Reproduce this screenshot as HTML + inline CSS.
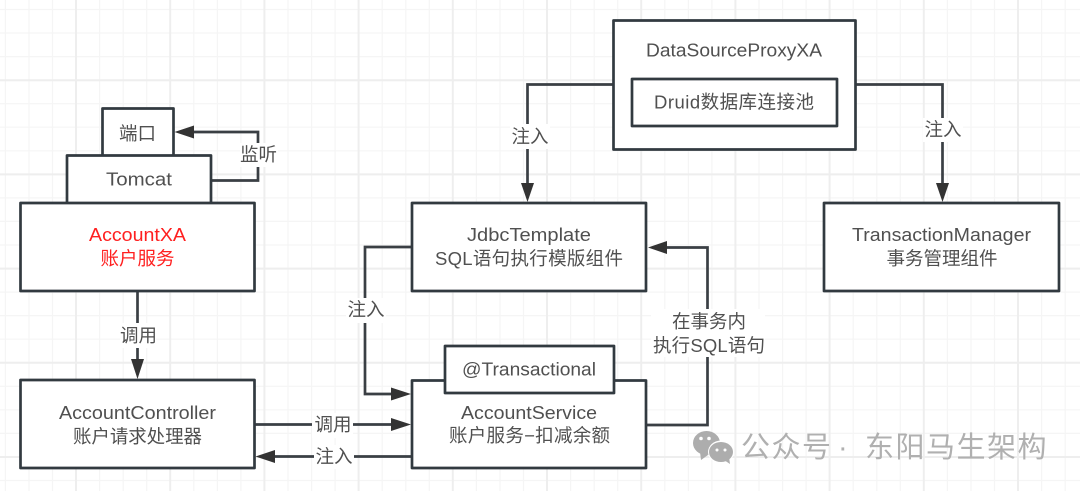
<!DOCTYPE html>
<html><head><meta charset="utf-8"><style>
html,body{margin:0;padding:0;background:#fff;width:1080px;height:491px;overflow:hidden}
svg{display:block}
text{font-family:"Liberation Sans","Noto Sans CJK SC",sans-serif;font-size:18.5px;fill:#505050;text-anchor:middle}
.b{fill:#fff;stroke:#323a40;stroke-width:2.7;stroke-linejoin:round}
.l{fill:none;stroke:#3a3f44;stroke-width:2.7}
.a{fill:#333;stroke:none}
.w{fill:#fff}
.g{stroke:#f5f5f5;stroke-width:1.2}
.s{stroke:#eeeeee;stroke-width:2}
.m{font-size:29px;fill:#b0b0b0;text-anchor:start;letter-spacing:1.500px}
</style></head><body>
<svg width="1080" height="491" viewBox="0 0 1080 491" xmlns="http://www.w3.org/2000/svg">
<rect width="1080" height="491" fill="#fff"/>
<g class="g">
<path d="M5.4 0V491M29 0V491M52.5 0V491M99.6 0V491M123.2 0V491M146.7 0V491M193.8 0V491M217.4 0V491M240.9 0V491M288 0V491M311.6 0V491M335.1 0V491M382.2 0V491M405.8 0V491M429.3 0V491M476.4 0V491M500 0V491M523.5 0V491M570.6 0V491M594.2 0V491M617.7 0V491M664.8 0V491M688.4 0V491M711.9 0V491M759 0V491M782.6 0V491M806.1 0V491M853.2 0V491M876.8 0V491M900.3 0V491M947.4 0V491M971 0V491M994.5 0V491M1041.6 0V491M1065.2 0V491"/>
<path d="M0 9.5H1080M0 33H1080M0 56.6H1080M0 103.7H1080M0 127.2H1080M0 150.8H1080M0 197.9H1080M0 221.4H1080M0 245H1080M0 292.1H1080M0 315.6H1080M0 339.2H1080M0 386.3H1080M0 409.8H1080M0 433.4H1080M0 480.5H1080"/>
</g>
<g class="s">
<path d="M76 0V491M170.2 0V491M264.4 0V491M358.6 0V491M452.8 0V491M547 0V491M641.2 0V491M735.4 0V491M829.6 0V491M923.8 0V491M1018 0V491"/>
<path d="M0 80.2H1080M0 174.4H1080M0 268.6H1080M0 362.8H1080M0 457H1080"/>
</g>

<!-- connectors -->
<path class="l" d="M211 180.500H258V132H185"/>
<path class="l" d="M137.500 291V367"/>
<path class="l" d="M254 424.500H400"/>
<path class="l" d="M412 456.500H268"/>
<path class="l" d="M412 247H365V394H400"/>
<path class="l" d="M646 425H707.500V247.500H660"/>
<path class="l" d="M613 84.500H527.500V190"/>
<path class="l" d="M855 84.500H942.500V190"/>

<!-- arrowheads -->
<path class="a" d="M174.500 132L194 125.500V138.500Z"/>
<path class="a" d="M137.500 379L131 359H144Z"/>
<path class="a" d="M411 424.500L391 418V431Z"/>
<path class="a" d="M255.500 456.500L275 450V463Z"/>
<path class="a" d="M411 394L391 387.500V400.500Z"/>
<path class="a" d="M648 247.500L667 241V254Z"/>
<path class="a" d="M527.500 202L521 183H534Z"/>
<path class="a" d="M942.500 202L936 183H949Z"/>

<!-- boxes -->
<rect class="b" x="102.500" y="108.500" width="71" height="48"/>
<rect class="b" x="67" y="155.500" width="144" height="48"/>
<rect class="b" x="20.500" y="203" width="234" height="88"/>
<rect class="b" x="20.500" y="380" width="234" height="88"/>
<rect class="b" x="412" y="380.500" width="234" height="87.500"/>
<rect class="b" x="445" y="346" width="169" height="47"/>
<rect class="b" x="412" y="203" width="234" height="88"/>
<rect class="b" x="613.500" y="20.500" width="242" height="129"/>
<rect class="b" x="632" y="79" width="205" height="47"/>
<rect class="b" x="824" y="203" width="235" height="88"/>

<!-- label backgrounds -->
<rect class="w" x="240" y="143" width="38" height="24"/>
<rect class="w" x="120" y="323" width="36" height="25"/>
<rect class="w" x="312" y="413" width="41" height="25"/>
<rect class="w" x="314" y="445" width="40" height="24"/>
<rect class="w" x="346" y="298" width="40" height="25"/>
<rect class="w" x="510" y="124" width="40" height="25"/>
<rect class="w" x="923" y="118" width="40" height="24"/>
<rect class="w" x="651" y="309" width="114" height="48"/>

<!-- text -->
<text x="137.500" y="140">端口</text>
<text x="139" y="185.500" textLength="66" lengthAdjust="spacingAndGlyphs">Tomcat</text>
<text x="137.500" y="241" textLength="97" lengthAdjust="spacingAndGlyphs" style="fill:#ff2020">AccountXA</text>
<text x="137.500" y="265" style="fill:#ff2020">账户服务</text>
<text x="258.500" y="161">监听</text>
<text x="138.500" y="342">调用</text>
<text x="137.500" y="419" textLength="157" lengthAdjust="spacingAndGlyphs">AccountController</text>
<text x="137.500" y="443" textLength="129">账户请求处理器</text>
<text x="333" y="431">调用</text>
<text x="334" y="463">注入</text>
<text x="366" y="316">注入</text>
<text x="530" y="143">注入</text>
<text x="943" y="136">注入</text>
<text x="529" y="241" textLength="124" lengthAdjust="spacingAndGlyphs">JdbcTemplate</text>
<text x="529" y="265" textLength="188">SQL语句执行模版组件</text>
<text x="529" y="375.500" textLength="134" lengthAdjust="spacingAndGlyphs">@Transactional</text>
<text x="529" y="419" textLength="136" lengthAdjust="spacingAndGlyphs">AccountService</text>
<text x="529.500" y="442" textLength="161">账户服务−扣减余额</text>
<text x="734" y="56.500" textLength="176" lengthAdjust="spacingAndGlyphs">DataSourceProxyXA</text>
<text x="734" y="108.500" textLength="160">Druid数据库连接池</text>
<text x="941.500" y="241" textLength="179" lengthAdjust="spacingAndGlyphs">TransactionManager</text>
<text x="942" y="265">事务管理组件</text>
<text x="709" y="328">在事务内</text>
<text x="709" y="352" textLength="112">执行SQL语句</text>

<!-- watermark -->
<g fill="#adadad">
<ellipse cx="706.500" cy="443" rx="13.500" ry="12"/>
<path d="M700 452L701 460L708 455Z"/>
</g>
<ellipse cx="721" cy="452" rx="13" ry="11.500" fill="#fff"/>
<g fill="#adadad">
<ellipse cx="721" cy="452" rx="12" ry="10"/>
<path d="M724 460L730 464L729 457Z"/>
</g>
<g fill="#fff">
<circle cx="701" cy="438.500" r="1.800"/><circle cx="709" cy="438.500" r="1.800"/>
<circle cx="717" cy="450" r="1.500"/><circle cx="725" cy="450" r="1.500"/>
</g>
<text class="m" x="741" y="457">公众号</text>
<text class="m" x="838" y="457">·</text>
<text class="m" x="865" y="457">东阳马生架构</text>
</svg>
</body></html>
